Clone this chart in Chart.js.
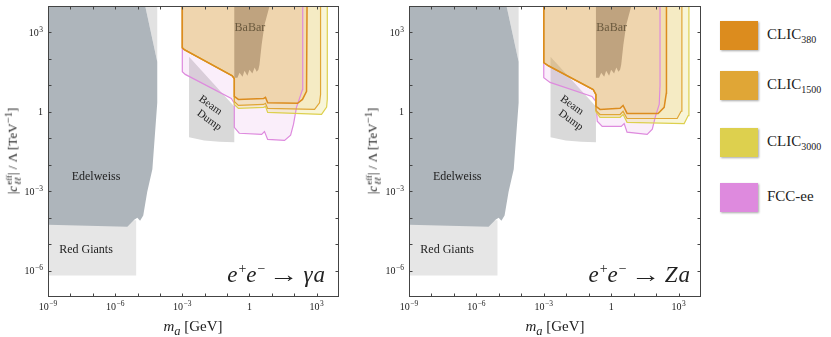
<!DOCTYPE html>
<html>
<head>
<meta charset="utf-8">
<script src="https://cdn.jsdelivr.net/npm/chart.js@4.4.1/dist/chart.umd.min.js"></script>
<style>
    body { margin: 0; background: #fff; width: 831px; height: 337px; overflow: hidden; position: relative;
           font-family: "Liberation Serif", "DejaVu Serif", serif; color: #222; }
    .panel { position: absolute; top: 0; width: 345px; height: 337px; }
    .ytitle { position: absolute; top: 151px; white-space: nowrap; font-size: 13px;
              transform: translate(-50%, -50%) rotate(-90deg); }
    .xtitle { position: absolute; top: 328px; white-space: nowrap; font-size: 15px; transform: translate(-50%, -50%); }
    .stack { display: inline-block; vertical-align: -0.4em; line-height: 0.95; font-size: 9px; margin-left: 1px; }
    .stack span { display: block; }
    .proc { position: absolute; top: 257px; line-height: 24px; font-size: 23px; white-space: nowrap; }
    .proc sup { font-size: 14px; margin-left: 1px; }
    .proc .arrow { display: inline-block; margin: 0 8px 0 7px; transform: scaleX(1.3); }
    .proc .sp { margin-left: 1px; }
    .legend-item { position: absolute; left: 720px; height: 29px; }
    .swatch { position: absolute; left: 0; top: 0; width: 38px; height: 29px; box-shadow: 1px 1px 2px rgba(0,0,0,0.35); }
    .legend-label { position: absolute; left: 47px; top: 5px; font-size: 15px; white-space: nowrap; }
    .legend-label sub { font-size: 10px; }
</style>
</head>
<body>
<div class="panel" style="left:0"><canvas id="gammaChart" width="345" height="337"></canvas></div>
<div class="panel" style="left:360px"><canvas id="zChart" width="345" height="337"></canvas></div>

<div class="ytitle" style="left:12px">|<i>c</i><span class="stack"><span>eff</span><span><i>ℓℓ</i></span></span>| / Λ [TeV<sup>−1</sup>]</div>
<div class="ytitle" style="left:372px">|<i>c</i><span class="stack"><span>eff</span><span><i>ℓℓ</i></span></span>| / Λ [TeV<sup>−1</sup>]</div>
<div class="xtitle" style="left:193px"><i>m<sub>a</sub></i> [GeV]</div>
<div class="xtitle" style="left:555px"><i>m<sub>a</sub></i> [GeV]</div>
<div class="proc" style="right:506px"><i>e</i><sup>+</sup><i>e</i><sup>−</sup><span class="arrow">→</span><i>γ</i><i class="sp">a</i></div>
<div class="proc" style="right:141px"><i>e</i><sup>+</sup><i>e</i><sup>−</sup><span class="arrow">→</span><i>Z</i><i class="sp">a</i></div>
<div id="legend"></div>

<script>
// all points are [m_a in GeV, |c|/Lambda in TeV^-1]
const edelweiss = [[2.2e-5, 1e4], [7.6e-5, 78], [7.6e-5, 2.2], [4.6e-5, 6.8e-3], [2.7e-5, 9.3e-4],
    [1.8e-5, 1.2e-4], [1.3e-5, 7.6e-5], [9.8e-6, 9.8e-5], [7.1e-6, 8.3e-5], [3.5e-6, 4.5e-5],
    [1e-9, 5.4e-5], [1e-9, 1e4]];
const edelweissEdge = [[2.2e-5, 1e4], [7.6e-5, 1e4], [7.6e-5, 78]];
const redGiants = [[1e-9, 6.5e-7], [8.7e-6, 6.5e-7], [8.7e-6, 8e-5], [1e-9, 8e-5]];
const beamDump = [[2e-3, 120], [0.21, 1.6], [0.21, 0.071], [0.046, 0.074], [9.5e-3, 0.083], [2e-3, 0.11]];
const babar = [[0.21, 1e4], [7.9, 1e4], [4.7, 1950], [3.5, 340], [2.8, 60], [2.5, 39], [2.1, 33],
    [1.7, 47], [1.35, 28], [1, 39], [0.81, 23], [0.6, 36], [0.49, 21], [0.36, 30], [0.29, 19.5], [0.21, 19.5]];

// e+e- -> gamma a
const gammaClic380 = [[1e-3, 1e5], [1e-3, 263], [1.23e-3, 224], [0.17, 23], [0.21, 18], [0.21, 3.8],
    [0.32, 2.95], [4.3, 3.2], [5.2, 3.5], [6.5, 2.2], [141, 2.1], [234, 2.95], [355, 5.9], [380, 1e5]];
const gammaClic1500 = [[1e-3, 1e5], [1e-3, 263], [1.23e-3, 224], [0.17, 23], [0.21, 18], [0.21, 2.45],
    [0.32, 1.74], [4.3, 1.9], [5.2, 2.1], [6.5, 1.35], [810, 1.23], [1350, 2.2], [1500, 4.5], [1500, 1e5]];
const gammaClic3000 = [[1e-3, 1e5], [1e-3, 263], [1.23e-3, 224], [0.17, 23], [0.21, 18], [0.21, 1.9],
    [0.32, 1.35], [4.3, 1.48], [5.2, 1.6], [6.5, 0.95], [1660, 0.8], [2800, 1.5], [3000, 3], [3000, 1e5]];
const gammaFcc = [[1e-3, 1e5], [1e-3, 33], [1.35e-3, 26], [0.155, 3.2], [0.21, 2.1], [0.21, 0.26],
    [0.35, 0.155], [3.5, 0.14], [4.7, 0.18], [6.5, 0.091], [37, 0.083], [69, 0.13], [93, 0.34],
    [126, 1.48], [234, 6.9], [240, 1e5]];

// e+e- -> Z a
const zClic380 = [[1e-3, 1e5], [1e-3, 72], [1.6e-3, 55], [0.16, 6.9], [0.21, 4.5], [0.21, 1.6],
    [0.32, 1.23], [2.5, 1.35], [3.4, 1.74], [5.1, 0.87], [123, 0.87], [229, 1.48], [285, 5], [290, 1e5]];
const zClic1500 = [[1e-3, 1e5], [1e-3, 72], [1.6e-3, 55], [0.16, 6.9], [0.21, 4.5], [0.21, 1.12],
    [0.32, 0.79], [2.5, 0.79], [3.4, 1.04], [5.1, 0.56], [870, 0.56], [1300, 1.05], [1410, 2], [1410, 1e5]];
const zClic3000 = [[1e-3, 1e5], [1e-3, 72], [1.6e-3, 55], [0.16, 6.9], [0.21, 4.5], [0.21, 1.0],
    [0.32, 0.62], [2.5, 0.62], [3.4, 0.79], [5.1, 0.4], [1780, 0.36], [2700, 0.72], [2900, 2], [2900, 1e5]];
const zFcc = [[1e-3, 1e5], [1e-3, 19.5], [1.9e-3, 12.9], [0.14, 3.8], [0.21, 2.45], [0.24, 0.44],
    [0.40, 0.28], [2.8, 0.28], [3.8, 0.36], [5.1, 0.17], [40, 0.14], [68, 0.22], [91, 0.62],
    [138, 1.9], [150, 10], [150, 1e5]];

const seriesNames = ['CLIC<sub>380</sub>', 'CLIC<sub>1500</sub>', 'CLIC<sub>3000</sub>', 'FCC-ee'];

// tick labels are "10" with an exponent ('' means plain "1")
const xTickValues = [1e-9, 1e-6, 1e-3, 1, 1e3];
const xTickExps = ['−9', '−6', '−3', '', '3'];
const yTickValues = [1e-6, 1e-3, 1, 1e3];
const yTickExps = ['−6', '−3', '', '3'];
const xDecades = [1e-9, 1e-8, 1e-7, 1e-6, 1e-5, 1e-4, 1e-3, 1e-2, 1e-1, 1, 1e1, 1e2, 1e3];
const yDecades = [1e-6, 1e-5, 1e-4, 1e-3, 1e-2, 1e-1, 1, 1e1, 1e2, 1e3];

const regionLabels = [
    { text: 'Edelweiss', x: 1.4e-7, y: 3.6e-3, rot: 0, size: 12, color: '#222' },
    { text: 'Red Giants', x: 5e-8, y: 6.2e-6, rot: 0, size: 12, color: '#222' },
    { text: 'BaBar', x: 1.05, y: 1480, rot: 0, size: 12, color: '#6b5a3e' },
    { text: 'Beam', x: 0.018, y: 1.74, rot: 0.62, size: 11, color: '#222' },
    { text: 'Dump', x: 0.016, y: 0.48, rot: 0.62, size: 11, color: '#222' }
];

const seriesColors = ['#dc8c1e', '#e0a636', '#ddd04e', '#de8ade'];
const FONT = '"Liberation Serif", "DejaVu Serif", serif';

const toPoints = arr => arr.map(p => ({ x: p[0], y: p[1] }));

function region(data, fillColor, lineColor, lineWidth) {
    return {
        data: toPoints(data),
        showLine: true,
        fill: 'shape',
        backgroundColor: fillColor,
        borderColor: lineColor || 'transparent',
        borderWidth: lineWidth || 0,
        pointRadius: 0,
        tension: 0
    };
}

// "10" + raised exponent, anchored by align ('center' or 'right')
function drawPower(ctx, exp, px, baseline, align) {
    const base = exp === '' ? '1' : '10';
    ctx.font = '10px ' + FONT;
    const wb = ctx.measureText(base).width;
    ctx.font = '7.5px ' + FONT;
    const we = exp === '' ? 0 : ctx.measureText(exp).width + 0.5;
    const total = wb + we;
    const left = align === 'center' ? px - total / 2 : px - total;
    ctx.textAlign = 'left';
    ctx.textBaseline = 'alphabetic';
    ctx.font = '10px ' + FONT;
    ctx.fillText(base, left, baseline);
    if (exp !== '') {
        ctx.font = '7.5px ' + FONT;
        ctx.fillText(exp, left + wb + 0.5, baseline - 4);
    }
}

const framePlugin = {
    id: 'frame',
    afterDatasetsDraw(chart) {
        const { ctx, chartArea: a, scales: { x, y } } = chart;
        ctx.save();
        // region names
        regionLabels.forEach(l => {
            ctx.save();
            ctx.translate(x.getPixelForValue(l.x), y.getPixelForValue(l.y));
            ctx.rotate(l.rot);
            ctx.font = l.size + 'px ' + FONT;
            ctx.fillStyle = l.color;
            ctx.textAlign = 'center';
            ctx.textBaseline = 'middle';
            ctx.fillText(l.text, 0, 0);
            ctx.restore();
        });
        // frame with inward ticks
        ctx.strokeStyle = '#444';
        ctx.lineWidth = 1;
        const L = Math.round(a.left) + 0.5, R = Math.round(a.right) - 0.5;
        const T = Math.round(a.top) + 0.5, B = Math.round(a.bottom) - 0.5;
        ctx.strokeRect(L, T, R - L, B - T);
        ctx.beginPath();
        xDecades.forEach(v => {
            const px = Math.round(x.getPixelForValue(v)) + 0.5;
            ctx.moveTo(px, B); ctx.lineTo(px, B - 3);
            ctx.moveTo(px, T); ctx.lineTo(px, T + 3);
        });
        yDecades.forEach(v => {
            const py = Math.round(y.getPixelForValue(v)) + 0.5;
            ctx.moveTo(L, py); ctx.lineTo(L + 3, py);
            ctx.moveTo(R, py); ctx.lineTo(R - 3, py);
        });
        ctx.stroke();
        // tick labels
        ctx.fillStyle = '#222';
        xTickValues.forEach((v, i) => drawPower(ctx, xTickExps[i], x.getPixelForValue(v), a.bottom + 13, 'center'));
        yTickValues.forEach((v, i) => drawPower(ctx, yTickExps[i], a.left - 5, y.getPixelForValue(v) + 3.5, 'right'));
        ctx.restore();
    }
};

function buildChart(canvasId, clic380, clic1500, clic3000, fcc, yWidth, padRight) {
    const datasets = [
        region(babar, '#bfa37f'),
        region(clic380, 'rgba(220,140,30,0.12)', seriesColors[0], 1.5),
        region(clic1500, 'rgba(224,166,54,0.12)', seriesColors[1], 1.2),
        region(clic3000, 'rgba(221,208,78,0.22)', seriesColors[2], 1.2),
        region(fcc, 'rgba(222,138,222,0.14)', seriesColors[3], 1.2),
        region(beamDump, '#d9d9d9'),
        region(edelweiss, '#aeb5bb'),
        region(edelweissEdge, '#e2e2e2'),
        region(redGiants, '#e6e6e6')
    ];
    return new Chart(document.getElementById(canvasId), {
        type: 'scatter',
        data: { datasets },
        options: {
            responsive: false,
            animation: false,
            layout: { padding: { top: 6, right: padRight, left: 0, bottom: 0 } },
            plugins: {
                legend: { display: false },
                tooltip: { enabled: false },
                filler: { drawTime: 'beforeDatasetsDraw' }
            },
            scales: {
                x: {
                    type: 'logarithmic', min: 1e-9, max: 1e4,
                    grid: { display: false, drawTicks: false },
                    border: { display: false },
                    afterBuildTicks: axis => { axis.ticks = xTickValues.map(v => ({ value: v })); },
                    afterFit: axis => { axis.height = 40; },
                    ticks: { display: false }
                },
                y: {
                    type: 'logarithmic', min: 1e-7, max: 1e4,
                    grid: { display: false, drawTicks: false },
                    border: { display: false },
                    afterBuildTicks: axis => { axis.ticks = yTickValues.map(v => ({ value: v })); },
                    afterFit: axis => { axis.width = yWidth; },
                    ticks: { display: false }
                }
            }
        },
        plugins: [framePlugin]
    });
}

function buildLegend() {
    const tops = [21, 71, 128, 183];
    const el = document.getElementById('legend');
    seriesNames.forEach((name, i) => {
        const item = document.createElement('div');
        item.className = 'legend-item';
        item.style.top = tops[i] + 'px';
        item.innerHTML = '<span class="swatch" style="background:' + seriesColors[i] + '"></span>' +
            '<span class="legend-label">' + name + '</span>';
        el.appendChild(item);
    });
}

buildChart('gammaChart', gammaClic380, gammaClic1500, gammaClic3000, gammaFcc, 48, 6);
buildChart('zChart', zClic380, zClic1500, zClic3000, zFcc, 49, 4);
buildLegend();
</script>
</body>
</html>
